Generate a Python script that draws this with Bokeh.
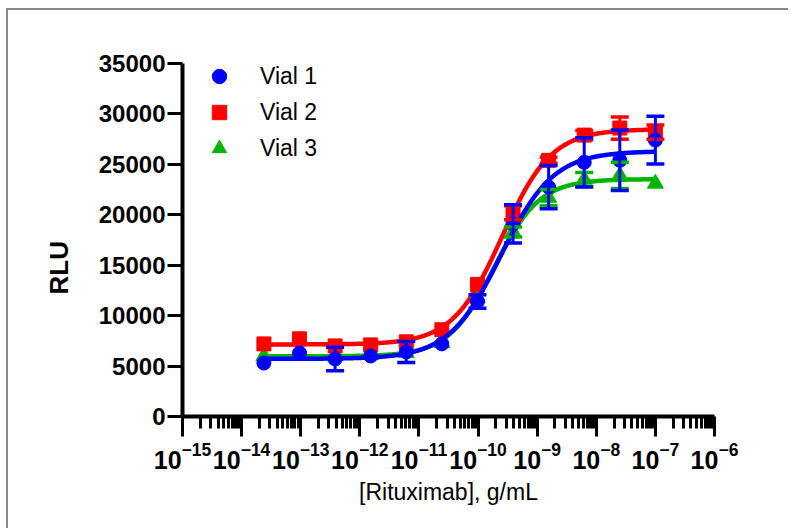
import numpy as np
from bokeh.plotting import figure
from bokeh.models import (ColumnDataSource, Whisker, TeeHead, Legend, LegendItem,
                          Title, FixedTicker, Range1d)
from bokeh.core.properties import value
from bokeh.embed import file_html
from bokeh.resources import INLINE

# ---------------- data ----------------
conc_g_ml = [2.384e-14, 9.537e-14, 3.815e-13, 1.526e-12, 6.104e-12, 2.441e-11,
             9.766e-11, 3.906e-10, 1.5625e-9, 6.25e-9, 2.5e-8, 1.0e-7]

vial1_mean = [5300, 6300, 5700, 6000, 6400, 7200, 11400, 19100, 22750, 25200, 25400, 27400]
vial1_err = [0, 0, 1160, 0, 1040, 0, 660, 1900, 2140, 2450, 3000, 2360]

vial2_mean = [7200, 7700, 7000, 7100, 7400, 8600, 13100, 20200, 25400, 27900, 28600, 28200]
vial2_err = [0, 0, 0, 0, 0, 0, 0, 700, 300, 450, 1100, 700]

vial3_mean = [6000, 6100, 6000, 6100, 6300, 7300, 11800, 18300, 21700, 23500, 23900, 23100]
vial3_err = [0, 0, 0, 0, 0, 0, 0, 500, 800, 700, 1300, 0]

series_names = ["Vial 1", "Vial 2", "Vial 3"]
series_colors = ["#0000FF", "#FF0000", "#00B400"]
series_markers = ["circle", "square", "triangle"]

x_major_ticks = [1e-15, 1e-14, 1e-13, 1e-12, 1e-11, 1e-10, 1e-9, 1e-8, 1e-7, 1e-6]
y_major_ticks = [0, 5000, 10000, 15000, 20000, 25000, 30000, 35000]

x_label = "[Rituximab], g/mL"
y_label = "RLU"


# ---------------- 4-parameter logistic fit of each series ----------------
def fit_4pl(x, y):
    lx = np.log10(np.asarray(x, float))
    y = np.asarray(y, float)
    c = np.arange(-11.5, -8.0, 0.005)
    h = np.arange(0.4, 3.0, 0.01)
    C, H = np.meshgrid(c, h, indexing="ij")
    with np.errstate(all="ignore"):
        F = 1.0 / (1.0 + 10.0 ** ((C[..., None] - lx) * H[..., None]))
        U = 1.0 - F
        suu = (U * U).sum(-1); suv = (U * F).sum(-1); svv = (F * F).sum(-1)
        suy = (U * y).sum(-1); svy = (F * y).sum(-1)
        det = suu * svv - suv ** 2
        B = (svv * suy - suv * svy) / det
        T = (suu * svy - suv * suy) / det
        sse = ((B[..., None] * U + T[..., None] * F - y) ** 2).sum(-1)
    sse = np.where(np.isfinite(sse), sse, np.inf)
    i = np.unravel_index(np.argmin(sse), sse.shape)
    return B[i], T[i], C[i], H[i]


def curve_4pl(params, xs):
    b, t, c, h = params
    return b + (t - b) / (1.0 + 10.0 ** ((c - np.log10(xs)) * h))


# ---------------- figure ----------------
p = figure(frame_width=532, frame_height=353, x_axis_type="log",
           x_range=Range1d(1e-15, 1e-6), y_range=Range1d(0, 35000),
           output_backend="svg", toolbar_location=None,
           min_border_left=174, min_border_top=53, min_border_right=74,
           min_border_bottom=112, background_fill_color="white",
           border_fill_color="white")
p.styles = {"border-left": "2px solid #8a8a8a", "border-top": "2px solid #8a8a8a",
            "margin-left": "6px", "margin-top": "8px"}
p.xgrid.visible = False
p.ygrid.visible = False
p.outline_line_color = None

FONT = "Liberation Sans"
for ax in (p.xaxis[0], p.yaxis[0]):
    ax.axis_line_width = 4
    ax.axis_line_color = "black"
    ax.major_tick_line_width = 3
    ax.minor_tick_line_width = 3
    ax.major_tick_line_color = "black"
    ax.minor_tick_line_color = "black"
    ax.major_tick_in = 0
    ax.minor_tick_in = 0
    ax.major_label_text_font = FONT
    ax.major_label_text_font_style = "bold"
    ax.major_label_text_color = "black"

x_minor = [m * t for t in x_major_ticks[:-1] for m in range(2, 10)]
xa = p.xaxis[0]
xa.ticker = FixedTicker(ticks=x_major_ticks, minor_ticks=x_minor)
xa.major_tick_out = 20
xa.minor_tick_out = 12
xa.major_label_standoff = 5
xa.major_label_text_font_size = "25px"
xa.axis_label = x_label
xa.axis_label_text_font = FONT
xa.axis_label_text_font_style = "normal"
xa.axis_label_text_font_size = "23px"
xa.axis_label_text_color = "black"
xa.axis_label_standoff = 7

ya = p.yaxis[0]
ya.ticker = FixedTicker(ticks=y_major_ticks, minor_ticks=[])
ya.major_tick_out = 15
ya.minor_tick_out = 0
ya.major_label_standoff = 2
ya.major_label_text_font_size = "24px"

p.add_layout(Title(text=y_label, align="left", offset=122, standoff=44,
                   text_font=FONT, text_font_size="26px", text_font_style="bold",
                   text_color="black"), "left")

means = [vial1_mean, vial2_mean, vial3_mean]
errs = [vial1_err, vial2_err, vial3_err]
sizes = [14, 14, 16]
xs = np.logspace(np.log10(conc_g_ml[0]), np.log10(conc_g_ml[-1]), 300)

scatter_r = {}
for k in [2, 1, 0]:
    col = series_colors[k]
    params = fit_4pl(conc_g_ml, means[k])
    p.line(xs, curve_4pl(params, xs), line_color=col, line_width=4.5)
    sel = [i for i, e in enumerate(errs[k]) if e > 0]
    wsrc = ColumnDataSource(dict(
        x=[conc_g_ml[i] for i in sel],
        upper=[means[k][i] + errs[k][i] for i in sel],
        lower=[means[k][i] - errs[k][i] for i in sel]))
    w = Whisker(base="x", upper="upper", lower="lower", source=wsrc, dimension="height",
                line_color=col, line_width=3, level="glyph",
                upper_head=TeeHead(size=18, line_color=col, line_width=3.5),
                lower_head=TeeHead(size=18, line_color=col, line_width=3.5))
    p.add_layout(w)
    src = ColumnDataSource(dict(x=conc_g_ml, y=means[k]))
    scatter_r[k] = p.scatter("x", "y", source=src, marker=series_markers[k], size=sizes[k],
                             fill_color=col, line_color=col)

legend = Legend(items=[LegendItem(label=value(series_names[k]), renderers=[scatter_r[k]])
                       for k in range(3)],
                location=(0, 250), glyph_width=74, glyph_height=36, label_height=36,
                label_standoff=4, spacing=0, padding=0, margin=0,
                border_line_color=None, background_fill_alpha=0,
                label_text_font=FONT, label_text_font_size="23px",
                label_text_color="black")
p.add_layout(legend)

open("out.html", "w").write(file_html(p, INLINE))
